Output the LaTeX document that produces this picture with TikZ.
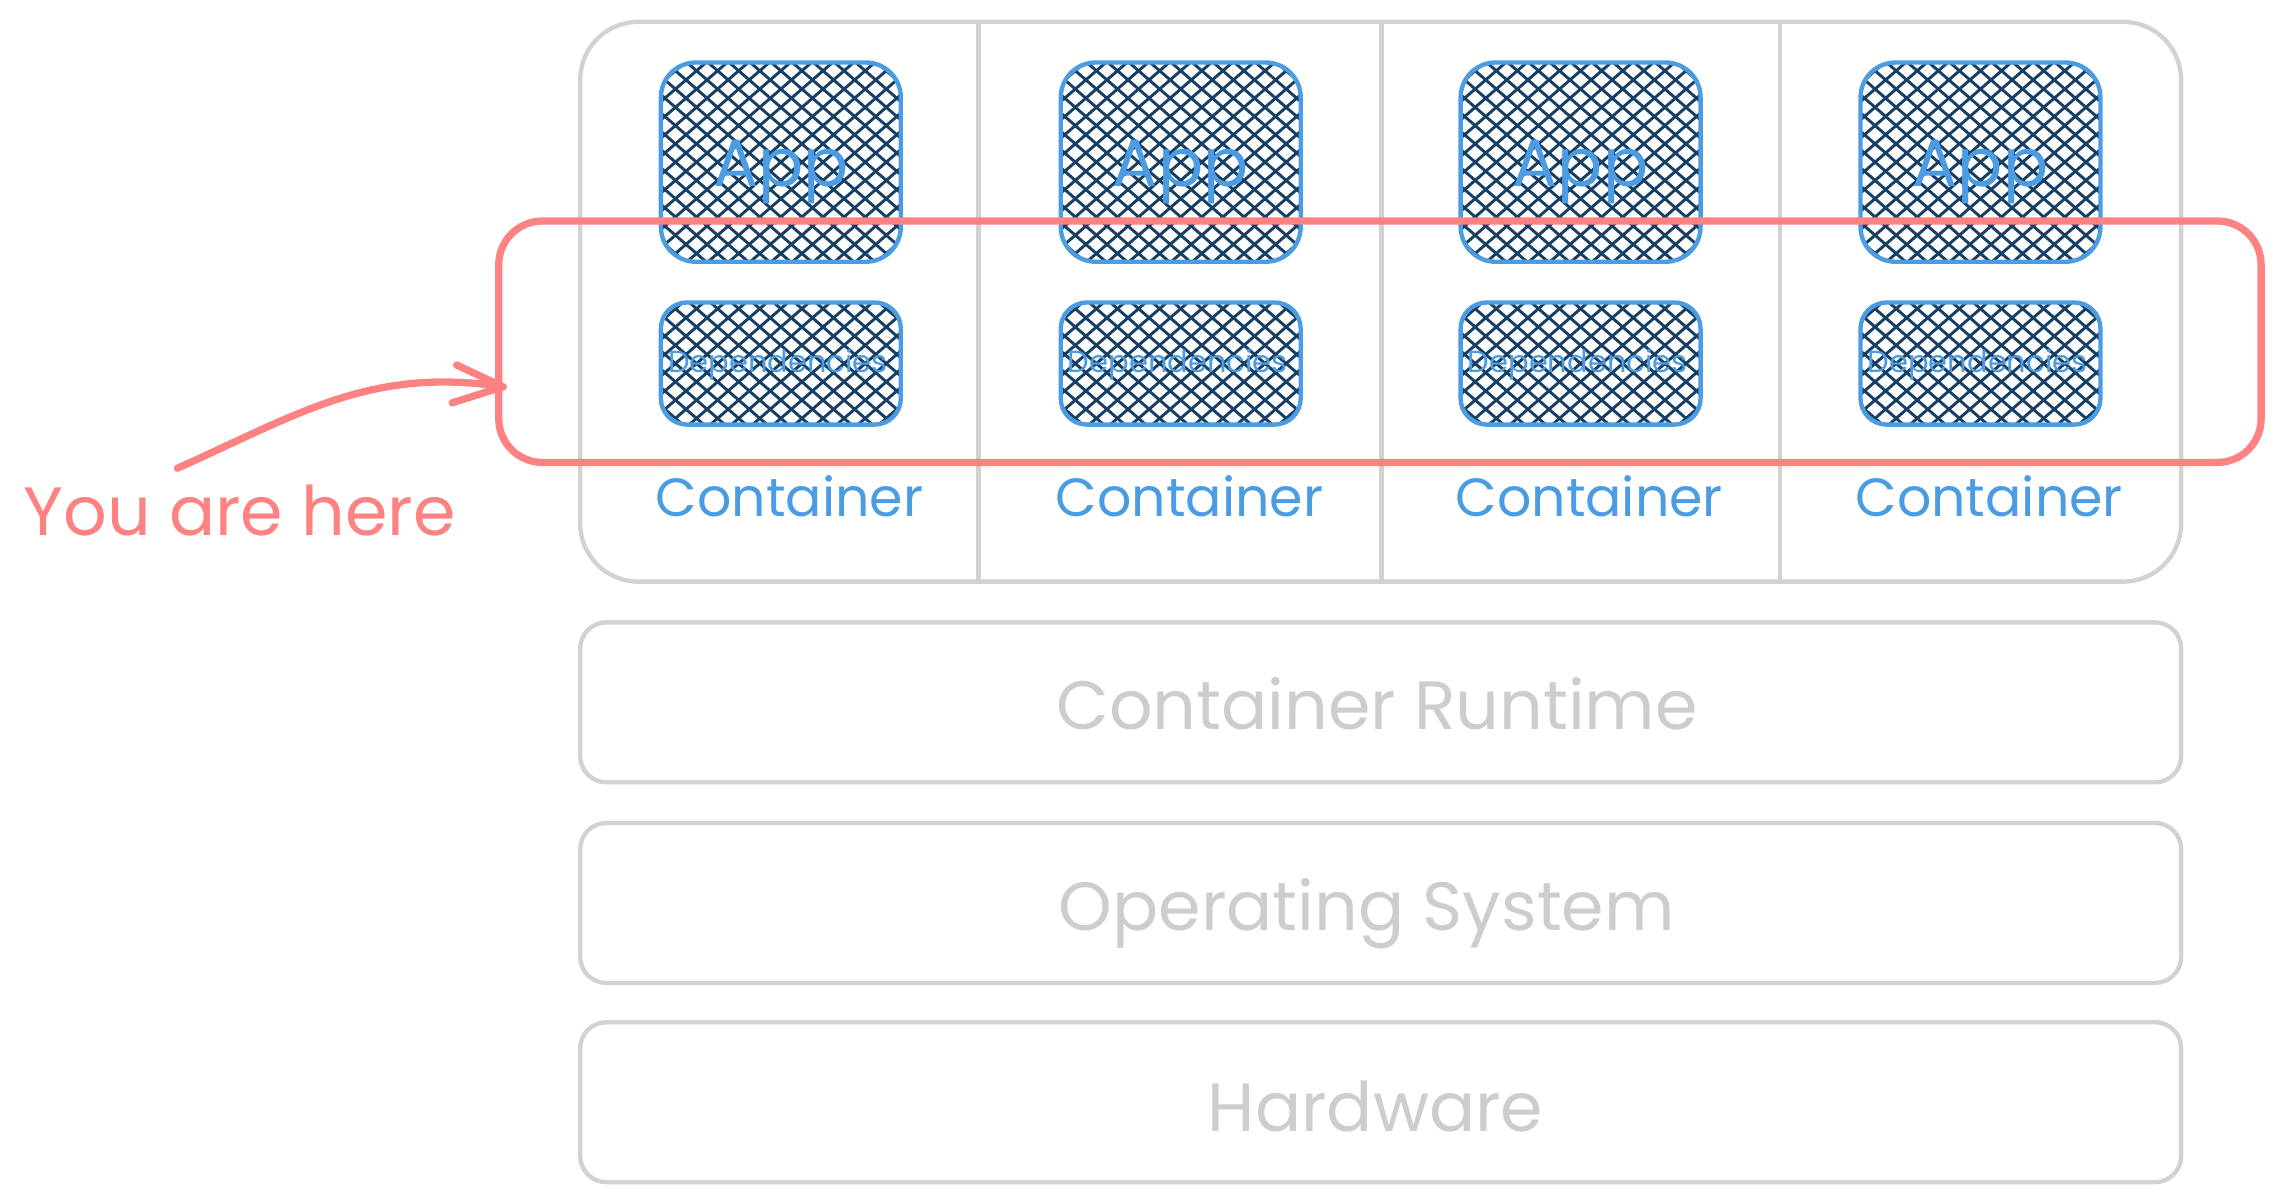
\documentclass[tikz,border=0pt]{standalone}
\usepackage{fontspec}
\setmainfont{Poppins}
\definecolor{gbox}{HTML}{D2D2D2}
\definecolor{gtext}{HTML}{CDCDCD}
\definecolor{bluec}{HTML}{4B9CE2}
\definecolor{navy}{HTML}{173E63}
\definecolor{redc}{HTML}{FF8282}
\tikzset{
  hatchline/.style={draw=navy, line width=2pt},
  hatched/.style={path picture={
     \foreach \k in {-13,...,13}{
       \draw[hatchline] ([xshift=\k*14.5pt]path picture bounding box.center) ++(-120pt,-104pt) -- ++(240pt,208pt);
       \draw[hatchline] ([xshift=\k*14.5pt]path picture bounding box.center) ++(-120pt,104pt) -- ++(240pt,-208pt);
     }}},
  outerbox/.style={draw=gbox, line width=3pt, rounded corners=40pt, minimum width=1101pt, minimum height=385pt, inner sep=0pt},
  layerbox/.style={draw=gbox, line width=3pt, rounded corners=18pt, minimum width=1101pt, minimum height=110pt, inner sep=0pt},
  appbox/.style={hatched, draw=bluec, line width=3pt, rounded corners=24pt, minimum width=165pt, minimum height=137pt, inner sep=0pt},
  depbox/.style={hatched, draw=bluec, line width=3pt, rounded corners=18pt, minimum width=165pt, minimum height=84pt, inner sep=0pt},
  clabel/.style={text=bluec, font=\fontsize{37}{40}\selectfont, anchor=base, inner sep=0pt},
  applabel/.style={text=bluec, font=\fontsize{46}{50}\selectfont, anchor=base, inner sep=0pt},
  deplabel/.style={text=bluec, font=\fontsize{21}{24}\selectfont, anchor=base, inner sep=0pt},
  glabel/.style={text=gtext, font=\fontsize{47}{52}\selectfont, anchor=base, inner sep=0pt},
  ylabel/.style={text=redc, font=\fontsize{47}{52}\selectfont, anchor=base west, inner sep=0pt},
  divider/.style={draw=gbox, line width=3pt},
  youbox/.style={draw=redc, line width=5pt, rounded corners=30pt, minimum width=1212pt, minimum height=166pt, inner sep=0pt},
  redarrow/.style={draw=redc, line width=5pt, line cap=round, line join=round},
}
\begin{document}
\begin{tikzpicture}[x=1pt, y=-1pt]
\useasboundingbox (0,0) rectangle (1568,826.6);

% container host box
\node[outerbox] (host) at (949.5,207.5) {};
\draw[divider] (673,15) -- (673,400);
\draw[divider] (950,15) -- (950,400);
\draw[divider] (1224,15) -- (1224,400);

% columns
\foreach \i/\cx in {1/537,2/812,3/1087,4/1362}{
  \node[appbox] (app\i) at (\cx,111.5) {};
  \node[applabel] (applbl\i) at (\cx,128) {App};
  \node[depbox] (dep\i) at (\cx,250) {};
  \node[deplabel] (deplbl\i) at (\cx-2,256) {Dependencies};
  \node[clabel] (cont\i) at (\cx+6,355) {Container};
}

% layers
\node[layerbox] (runtime) at (949.5,483) {};
\node[glabel] at (947,502) {Container Runtime};
\node[layerbox] (os) at (949.5,621) {};
\node[glabel] at (940,640) {Operating System};
\node[layerbox] (hw) at (949.5,758) {};
\node[glabel] at (946,778) {Hardware};

% you are here
\node[youbox] (you) at (949,235) {};
\node[ylabel] (ytext) at (16,368) {You are here};
\coordinate (arrowtail) at (122,322);
\coordinate (arrowtip) at (346,266);
\draw[redarrow] (arrowtail) .. controls (205,285) and (255,252) .. (arrowtip);
\draw[redarrow] (314,251) -- (arrowtip) -- (311,277);
\end{tikzpicture}
\end{document}
